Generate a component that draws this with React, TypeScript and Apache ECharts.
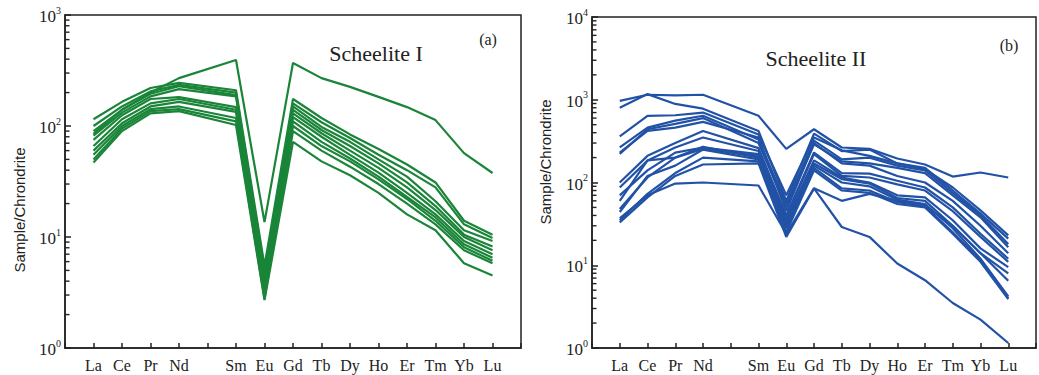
import React, { useEffect, useRef } from 'react';
import * as echarts from 'echarts';

// REE positions along the x axis (Pm is a blank slot, not analysed)
const ELEMENTS = ['La', 'Ce', 'Pr', 'Nd', 'Pm', 'Sm', 'Eu', 'Gd', 'Tb', 'Dy', 'Ho', 'Er', 'Tm', 'Yb', 'Lu'];
const HIDDEN_LABELS = ['Pm'];
const PLOTTED = ['La', 'Ce', 'Pr', 'Nd', 'Sm', 'Eu', 'Gd', 'Tb', 'Dy', 'Ho', 'Er', 'Tm', 'Yb', 'Lu'];

// Panel (a) Scheelite I, chondrite-normalised values, one array per sample
const SCHEELITE_I_01 = [85, 140, 200, 270, 393, 13.6, 370, 270, 225, 183, 148, 113, 57, 37.7];
const SCHEELITE_I_02 = [115, 165, 220, 245, 210, 5.5, 175, 118, 84, 62, 45, 31, 14, 10.5];
const SCHEELITE_I_03 = [100, 150, 205, 235, 200, 5.0, 160, 108, 78, 55, 40, 28, 13, 9.8];
const SCHEELITE_I_04 = [90, 140, 195, 228, 190, 4.5, 150, 98, 72, 50, 35, 21, 11.5, 9.2];
const SCHEELITE_I_05 = [82, 132, 185, 215, 185, 4.1, 140, 92, 66, 46, 31, 19, 10.5, 8.2];
const SCHEELITE_I_06 = [75, 125, 175, 182, 148, 3.8, 130, 86, 60, 42, 28, 17.5, 10, 7.6];
const SCHEELITE_I_07 = [66, 115, 160, 175, 140, 3.5, 120, 80, 55, 38, 25, 16, 9.2, 7.0];
const SCHEELITE_I_08 = [60, 106, 150, 165, 134, 3.2, 110, 72, 51, 35, 23, 15, 8.6, 6.5];
const SCHEELITE_I_09 = [55, 100, 142, 150, 118, 3.0, 100, 66, 48, 33, 22, 14, 8.1, 6.1];
const SCHEELITE_I_10 = [50, 95, 136, 142, 110, 2.8, 90, 60, 43, 30, 20, 13, 7.6, 5.8];
const SCHEELITE_I_11 = [47, 90, 130, 136, 102, 2.7, 72, 48, 36, 25, 16, 11.5, 5.8, 4.5];

// Panel (b) Scheelite II
const SCHEELITE_II_01 = [970, 1150, 1130, 1150, 640, 255, 440, 265, 255, 195, 165, 118, 132, 115];
const SCHEELITE_II_02 = [800, 1170, 890, 780, 420, 60, 390, 240, 250, 170, 145, 87, 46, 23];
const SCHEELITE_II_03 = [360, 640, 650, 700, 380, 70, 350, 245, 210, 170, 150, 80, 42, 21];
const SCHEELITE_II_04 = [265, 460, 560, 640, 330, 55, 320, 190, 200, 160, 140, 75, 40, 18];
const SCHEELITE_II_05 = [222, 440, 510, 600, 300, 50, 290, 180, 170, 150, 130, 70, 38, 16.5];
const SCHEELITE_II_06 = [230, 420, 460, 540, 350, 45, 300, 170, 160, 120, 100, 60, 30, 14];
const SCHEELITE_II_07 = [100, 210, 300, 420, 260, 40, 230, 130, 128, 105, 87, 50, 24, 12];
const SCHEELITE_II_08 = [87, 184, 265, 350, 240, 38, 220, 120, 115, 95, 80, 45, 22, 11];
const SCHEELITE_II_09 = [70, 140, 230, 265, 220, 35, 185, 115, 100, 70, 66, 35, 16, 9.5];
const SCHEELITE_II_10 = [60, 185, 200, 255, 210, 32, 170, 110, 97, 65, 60, 30, 14, 8];
const SCHEELITE_II_11 = [48, 115, 200, 270, 200, 30, 160, 100, 90, 62, 55, 28, 12, 4.2];
const SCHEELITE_II_12 = [44, 120, 160, 250, 190, 28, 150, 85, 80, 58, 52, 25, 11.5, 4.0];
const SCHEELITE_II_13 = [35, 73, 130, 200, 180, 25, 140, 80, 75, 55, 50, 24, 11, 3.9];
const SCHEELITE_II_14 = [33, 66, 120, 165, 170, 22, 85, 60, 73, 60, 53, 30, 14, 6.5];
const SCHEELITE_II_15 = [37, 70, 97, 100, 92, 24, 85, 29, 22, 10.5, 6.6, 3.5, 2.2, 1.15];

const SAMPLES_I = [SCHEELITE_I_01, SCHEELITE_I_02, SCHEELITE_I_03, SCHEELITE_I_04, SCHEELITE_I_05, SCHEELITE_I_06,
  SCHEELITE_I_07, SCHEELITE_I_08, SCHEELITE_I_09, SCHEELITE_I_10, SCHEELITE_I_11];
const SAMPLES_II = [SCHEELITE_II_01, SCHEELITE_II_02, SCHEELITE_II_03, SCHEELITE_II_04, SCHEELITE_II_05,
  SCHEELITE_II_06, SCHEELITE_II_07, SCHEELITE_II_08, SCHEELITE_II_09, SCHEELITE_II_10, SCHEELITE_II_11,
  SCHEELITE_II_12, SCHEELITE_II_13, SCHEELITE_II_14, SCHEELITE_II_15];

const TITLE_A = 'Scheelite I';
const TITLE_B = 'Scheelite II';
const Y_NAME = 'Sample/Chrondrite';

const GREEN = '#1a8539';
const BLUE = '#2252a6';
const INK = '#222222';
const SERIF = '"Liberation Serif", "Times New Roman", serif';
const SANS = '"Liberation Sans", Arial, sans-serif';

export default function App() {
  const ref = useRef<HTMLDivElement>(null);
  useEffect(() => {
    if (!ref.current) return;
    const chart = echarts.init(ref.current, undefined, { renderer: 'svg' });

    const grids = [
      { left: 65, top: 15, width: 456, height: 333 },
      { left: 592, top: 17, width: 457, height: 331 },
    ];

    const xAxisFor = (gi: number) => ({
      type: 'value',
      gridIndex: gi,
      min: -1,
      max: ELEMENTS.length,
      interval: 1,
      axisLine: { show: true, onZero: false, lineStyle: { color: INK, width: 1.5 } },
      axisTick: { show: true, inside: true, length: 5, lineStyle: { color: INK, width: 1.5 } },
      splitLine: { show: false },
      axisLabel: {
        margin: 9,
        fontFamily: SERIF,
        fontSize: 16,
        color: INK,
        formatter: (v: number) => {
          const n = ELEMENTS[v];
          return n && !HIDDEN_LABELS.includes(n) ? n : '';
        },
      },
    });

    const yAxisFor = (gi: number, max: number) => ({
      type: 'log',
      logBase: 10,
      gridIndex: gi,
      min: 1,
      max,
      axisLine: { show: true, onZero: false, lineStyle: { color: INK, width: 1.5 } },
      axisTick: { show: true, inside: true, length: 6, lineStyle: { color: INK, width: 1.5 } },
      splitLine: { show: false },
      axisLabel: {
        margin: 4,
        formatter: (v: number) => `{b|10}{s|${Math.round(Math.log10(v))}}`,
        rich: {
          b: { fontFamily: SERIF, fontSize: 17, color: INK, lineHeight: 20, verticalAlign: 'bottom' },
          s: { fontFamily: SERIF, fontSize: 10, color: INK, lineHeight: 12, verticalAlign: 'top' },
        },
      },
    });

    const toSeries = (samples: number[][], gi: number, color: string) =>
      samples.map((vals, k) => ({
        type: 'line',
        name: `${gi}-${k}`,
        xAxisIndex: gi,
        yAxisIndex: gi,
        data: PLOTTED.map((el, i) => [ELEMENTS.indexOf(el), vals[i]]),
        showSymbol: false,
        symbol: 'none',
        lineStyle: { color, width: 2.2 },
        itemStyle: { color },
        emphasis: { disabled: true },
        silent: true,
      }));

    const textEl = (text: string, x: number, y: number, font: string, rotation = 0) => ({
      type: 'text',
      x,
      y,
      rotation,
      silent: true,
      style: { text, font, fill: INK, textAlign: 'center', textVerticalAlign: 'middle' },
    });

    chart.setOption({
      animation: false,
      grid: grids.map((g) => ({ ...g, show: true, borderColor: INK, borderWidth: 1.5, backgroundColor: 'transparent' })),
      xAxis: [xAxisFor(0), xAxisFor(1)],
      yAxis: [yAxisFor(0, 1000), yAxisFor(1, 10000)],
      series: [...toSeries(SAMPLES_I, 0, GREEN), ...toSeries(SAMPLES_II, 1, BLUE)],
    });

    // logarithmic minor ticks on both y axes, placed through the axes' own scales
    const minorTicks: any[] = [];
    [
      { gi: 0, decades: 3 },
      { gi: 1, decades: 4 },
    ].forEach(({ gi, decades }) => {
      for (let d = 0; d < decades; d++) {
        for (let m = 2; m <= 9; m++) {
          const p = chart.convertToPixel({ gridIndex: gi } as any, [-1, m * Math.pow(10, d)]) as unknown as number[];
          if (!p || !isFinite(p[0]) || !isFinite(p[1])) continue;
          minorTicks.push({
            type: 'line',
            silent: true,
            z: 100,
            shape: { x1: p[0], y1: p[1], x2: p[0] + 4.5, y2: p[1] },
            style: { stroke: INK, lineWidth: 1.4 },
          });
        }
      }
    });

    chart.setOption({
      graphic: [
        ...minorTicks,
        textEl(TITLE_A, 376, 53, `22px ${SERIF}`),
        textEl('(a)', 488, 39, `16px ${SERIF}`),
        textEl(TITLE_B, 816, 58, `22px ${SERIF}`),
        textEl('(b)', 1009, 45, `16px ${SERIF}`),
        textEl(Y_NAME, 19, 210, `15px ${SANS}`, Math.PI / 2),
        textEl(Y_NAME, 545, 162, `15px ${SANS}`, Math.PI / 2),
      ],
    });

    return () => chart.dispose();
  }, []);

  return (
    <div
      ref={ref}
      style={{ position: 'fixed', left: 0, top: 0, width: 1039, height: 375, background: '#fff' }}
    />
  );
}
